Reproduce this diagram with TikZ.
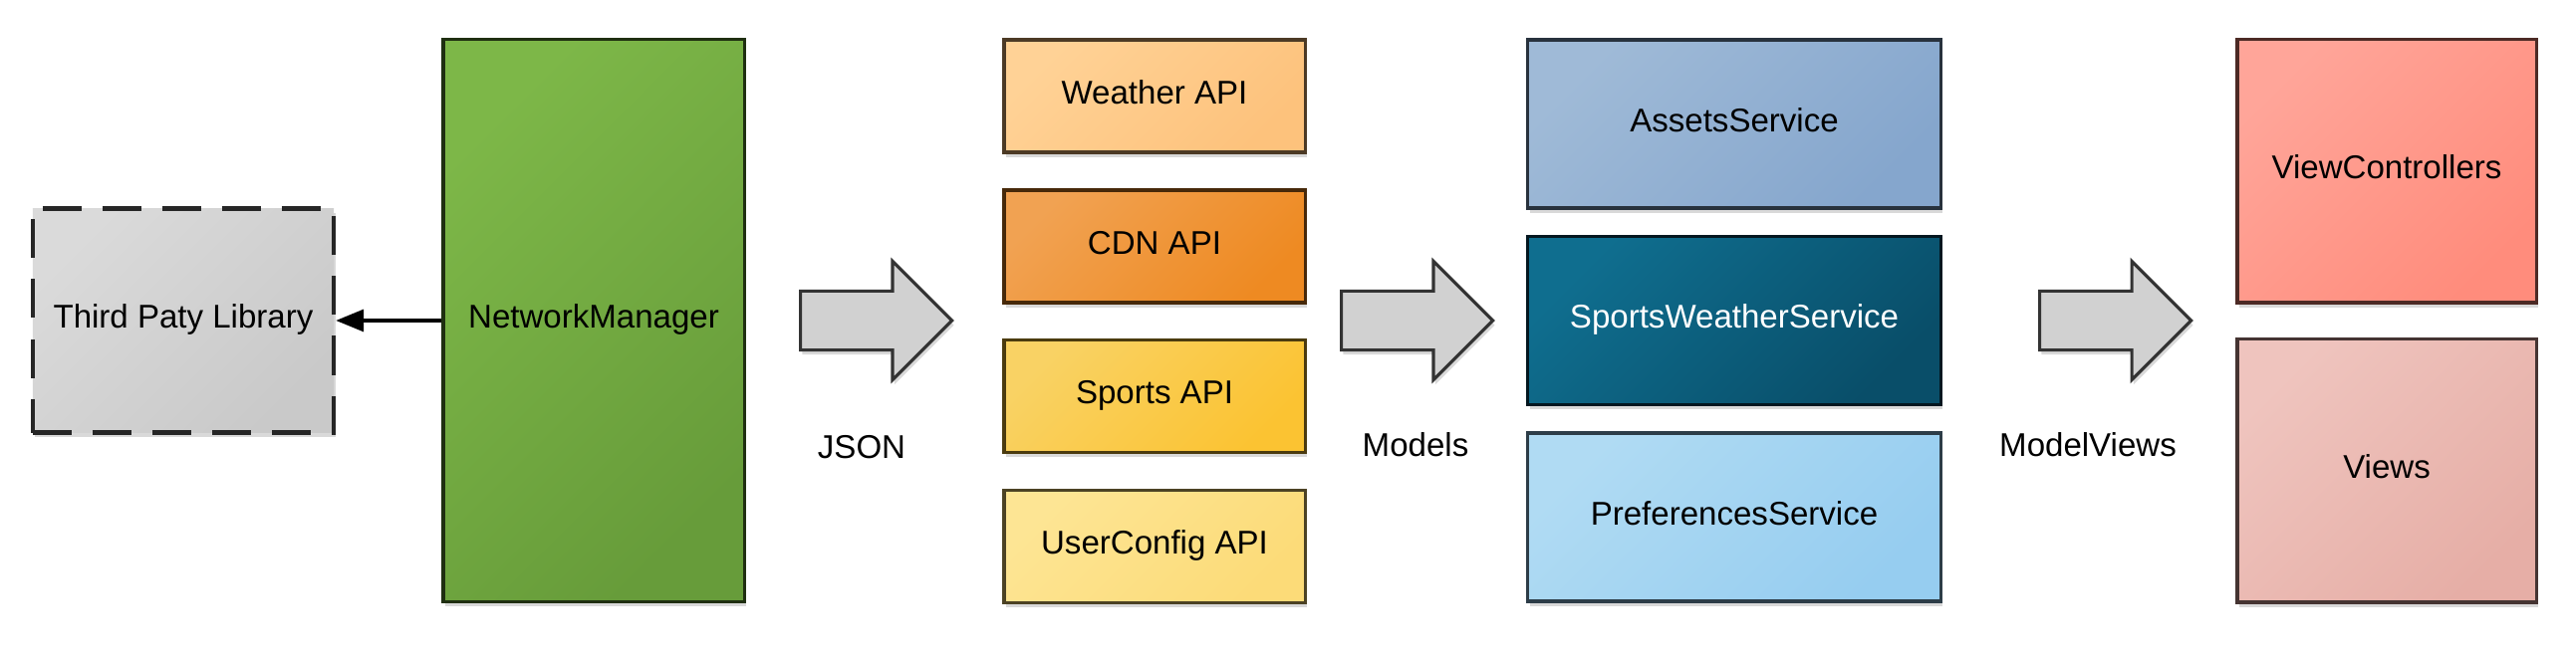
\documentclass[tikz,border=0pt]{standalone}
\usepackage{fontspec}
\setmainfont{Liberation Sans}
\usetikzlibrary{shapes.arrows,shadows,arrows.meta}

\definecolor{thirdA}{HTML}{DADADA}
\definecolor{thirdB}{HTML}{C9C9C9}
\definecolor{netA}{HTML}{7DB748}
\definecolor{netB}{HTML}{679C3A}
\definecolor{weatherA}{HTML}{FFD296}
\definecolor{weatherB}{HTML}{FDC27C}
\definecolor{cdnA}{HTML}{F1A252}
\definecolor{cdnB}{HTML}{EE8A22}
\definecolor{sportsA}{HTML}{F9D264}
\definecolor{sportsB}{HTML}{FBC332}
\definecolor{userA}{HTML}{FDE594}
\definecolor{userB}{HTML}{FCDB78}
\definecolor{assetsA}{HTML}{9FBAD7}
\definecolor{assetsB}{HTML}{85A6CD}
\definecolor{swsA}{HTML}{0F6E8F}
\definecolor{swsB}{HTML}{094E69}
\definecolor{prefA}{HTML}{B0DBF3}
\definecolor{prefB}{HTML}{96CDF0}
\definecolor{vcA}{HTML}{FFA599}
\definecolor{vcB}{HTML}{FF8C7C}
\definecolor{viewsA}{HTML}{EFC4BE}
\definecolor{viewsB}{HTML}{E6AEA6}
\definecolor{arrowgray}{HTML}{D1D1D1}

\tikzset{
  box/.style={rectangle, line width=0.9pt, inner sep=0pt, align=center,
    font=\fontsize{9.4}{11.3}\selectfont, text height=0.24cm, text depth=0.08cm,
    drop shadow={shadow xshift=0.5pt, shadow yshift=-1.3pt, opacity=0.3}},
  grad/.style 2 args={top color=#1, bottom color=#2, shading angle=45, draw=#2!30!black},
  bigarrow/.style={single arrow, draw=black!80, line width=0.9pt, fill=arrowgray,
    minimum height=1.52cm, text height=0.56cm, text depth=0pt, single arrow head extend=0.3cm,
    inner sep=0pt, anchor=tail,
    drop shadow={shadow xshift=0.5pt, shadow yshift=-1.3pt, opacity=0.3}},
  lbl/.style={font=\fontsize{9.4}{11.3}\selectfont, inner sep=0pt}
}

\begin{document}
\begin{tikzpicture}[x=0.01cm, y=-0.01cm] % one unit is one pixel of the drawing
    \useasboundingbox (0,0) rectangle (2586,665);

    % left part
    \node[box, grad={thirdA}{thirdB}, draw=black!85, line width=1.2pt,
      dash pattern=on 0.39cm off 0.21cm, minimum width=3.02cm, minimum height=2.25cm]
      (third) at (184,322) {Third Paty Library};
    \node[box, grad={netA}{netB}, minimum width=3.02cm, minimum height=5.65cm] (netmgr) at (596,322) {NetworkManager};
    \draw[-{Triangle[length=0.28cm, width=0.22cm]}, line width=0.95pt] (netmgr.west) -- (third.east);

    % APIs
    \node[bigarrow] (arrjson) at (802,322) {};
    \node[lbl] (json) at (865,449) {JSON};
    \node[box, grad={weatherA}{weatherB}, minimum width=3.02cm, minimum height=1.13cm] (weather) at (1159,96.5) {Weather API};
    \node[box, grad={cdnA}{cdnB}, minimum width=3.02cm, minimum height=1.13cm] (cdn) at (1159,247.5) {CDN API};
    \node[box, grad={sportsA}{sportsB}, minimum width=3.02cm, minimum height=1.13cm] (sports) at (1159,398) {Sports API};
    \node[box, grad={userA}{userB}, minimum width=3.02cm, minimum height=1.13cm] (userconfig) at (1159,549) {UserConfig API};

    % services
    \node[bigarrow] (arrmodels) at (1345,322) {};
    \node[lbl] (models) at (1421,447) {Models};
    \node[box, grad={assetsA}{assetsB}, minimum width=4.14cm, minimum height=1.69cm] (assets) at (1741,124.5) {AssetsService};
    \node[box, grad={swsA}{swsB}, text=white, minimum width=4.14cm, minimum height=1.69cm] (sws) at (1741,322) {SportsWeatherService};
    \node[box, grad={prefA}{prefB}, minimum width=4.14cm, minimum height=1.69cm] (prefs) at (1741,519.5) {PreferencesService};

    % view layer
    \node[bigarrow] (arrviews) at (2046,322) {};
    \node[lbl] (modelviews) at (2096,447) {ModelViews};
    \node[box, grad={vcA}{vcB}, minimum width=3.0cm, minimum height=2.64cm] (vc) at (2396,172) {ViewControllers};
    \node[box, grad={viewsA}{viewsB}, minimum width=3.0cm, minimum height=2.64cm] (views) at (2396,473) {Views};
\end{tikzpicture}
\end{document}
